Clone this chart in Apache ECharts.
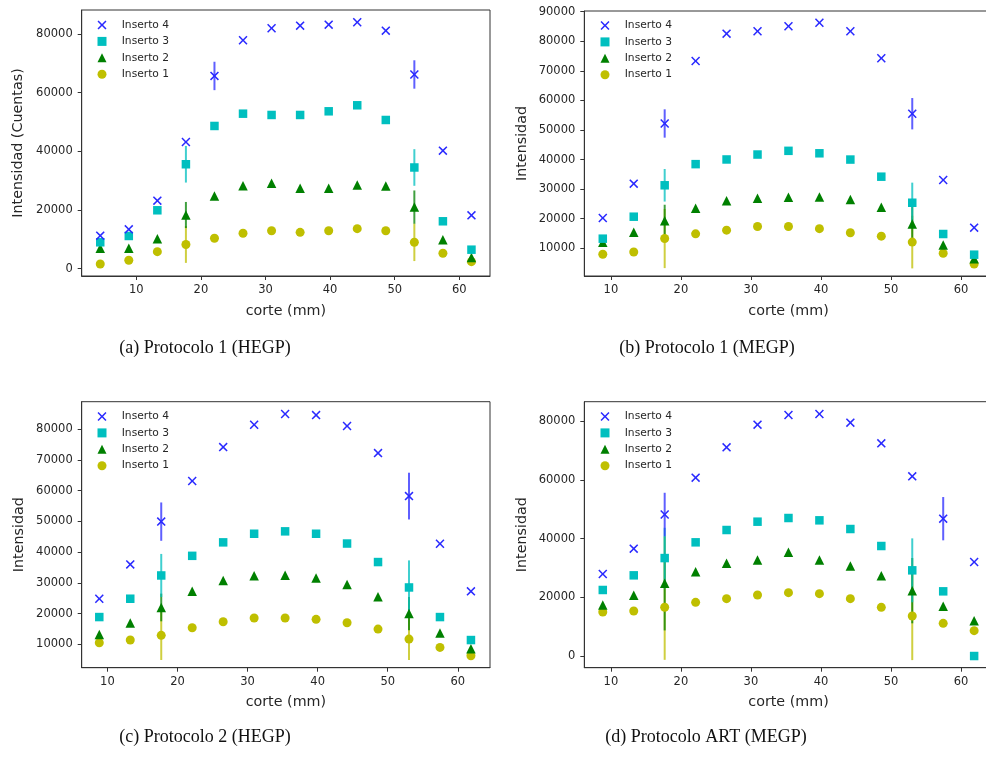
<!DOCTYPE html>
<html>
<head>
<meta charset="utf-8">
<title>Intensidad por corte</title>
<script src="https://cdn.jsdelivr.net/npm/echarts@6/dist/echarts.min.js"></script>
<style>
    html, body { margin: 0; padding: 0; background: #fff; }
    #main { width: 986px; height: 758px; }
</style>
</head>
<body>
<div id="main"></div>
<script>
// posiciones de corte (mm)
var cortesA = [4.42, 8.84, 13.26, 17.68, 22.10, 26.52, 30.94, 35.36, 39.78, 44.20, 48.62, 53.04, 57.46, 61.88];
var cortes = [8.84, 13.26, 17.68, 22.10, 26.52, 30.94, 35.36, 39.78, 44.20, 48.62, 53.04, 57.46, 61.88];

// (a) Protocolo 1 (HEGP)
var a4 = [11250, 13430, 23180, 43190, 65700, 77860, 81950, 82840, 83180, 84000, 81130, 66200, 40230, 18200];
var a3 = [9000, 11150, 19910, 35600, 48650, 52840, 52400, 52400, 53650, 55700, 50690, 34500, 16160, 6480];
var a2 = [6950, 6950, 10230, 18300, 24780, 28300, 29110, 27400, 27400, 28530, 28190, 21000, 9890, 3800];
var a1 = [1600, 2860, 5800, 8250, 10360, 12070, 12950, 12400, 12950, 13640, 12950, 9000, 5250, 2390];
var errA4 = [null, null, null, null, 4840, null, null, null, null, null, null, 4840, null, null];
var errA3 = [null, null, null, 6240, null, null, null, null, null, null, null, 6240, null, null];
var errA2 = [null, null, null, 4450, null, null, null, null, null, null, null, 5670, null, null];
var errA1 = [null, null, null, 6270, null, null, null, null, null, null, null, 6400, null, null];

// (b) Protocolo 1 (MEGP)
var b4 = [20240, 31840, 52200, 73330, 82560, 83370, 85060, 86270, 83370, 74240, 55500, 33090, 16960];
var b3 = [13250, 20680, 31300, 38450, 40030, 41700, 42950, 42120, 40000, 34210, 25400, 14830, 7840];
var b2 = [12030, 15410, 19330, 23520, 26100, 26900, 27240, 27300, 26500, 23900, 18200, 11120, 6500];
var b1 = [7970, 8750, 13300, 14880, 16140, 17370, 17370, 16630, 15270, 14100, 12100, 8310, 4690];
var errB4 = [null, null, 4790, null, null, null, null, null, null, null, 5300, null, null];
var errB3 = [null, null, 5500, null, null, null, null, null, null, null, 6800, null, null];
var errB2 = [null, null, 5400, null, null, null, null, null, null, null, 6000, null, null];
var errB1 = [null, null, 10000, null, null, null, null, null, null, null, 8900, null, null];

// (c) Protocolo 2 (HEGP)
var c4 = [24840, 36000, 49900, 63090, 74140, 81400, 84870, 84540, 80970, 72190, 58200, 42720, 27230];
var c3 = [18880, 24840, 32400, 38780, 43160, 45960, 46740, 45960, 42780, 36760, 28500, 18880, 11410];
var c2 = [13250, 16930, 22000, 27230, 30800, 32320, 32430, 31560, 29500, 25490, 20000, 13680, 8590];
var c1 = [10540, 11410, 12930, 15420, 17370, 18560, 18560, 18130, 17040, 14980, 11730, 9020, 6320];
var errC4 = [null, null, 6230, null, null, null, null, null, null, null, 7600, null, null];
var errC3 = [null, null, 7000, null, null, null, null, null, null, null, 8800, null, null];
var errC2 = [null, null, 4500, null, null, null, null, null, null, null, 5400, null, null];
var errC1 = [null, null, 8000, null, null, null, null, null, null, null, 6800, null, null];

// (d) Protocolo ART (MEGP)
var d4 = [27990, 36600, 48200, 60730, 71040, 78740, 82030, 82370, 79420, 72400, 61180, 46790, 32060];
var d3 = [22550, 27530, 33400, 38750, 42940, 45770, 47020, 46230, 43280, 37500, 29230, 22090, 100];
var d2 = [17450, 20730, 24810, 28780, 31610, 32740, 35350, 32740, 30700, 27420, 22320, 17000, 12120];
var d1 = [15070, 15410, 16700, 18350, 19600, 20850, 21640, 21300, 19600, 16660, 13710, 11220, 8720];
var errD4 = [null, null, 7400, null, null, null, null, null, null, null, null, 7360, null];
var errD3 = [null, null, 10300, null, null, null, null, null, null, null, 10870, null, null];
var errD2 = [null, null, 16000, null, null, null, null, null, null, null, 11100, null, null];
var errD1 = [null, null, 17900, null, null, null, null, null, null, null, 15000, null, null];

// etiquetas de los ejes
var xTicks = [10, 20, 30, 40, 50, 60];
var yTicksA = [0, 20000, 40000, 60000, 80000];
var yTicksB = [10000, 20000, 30000, 40000, 50000, 60000, 70000, 80000, 90000];
var yTicksC = [10000, 20000, 30000, 40000, 50000, 60000, 70000, 80000];
var yTicksD = [0, 20000, 40000, 60000, 80000];

var names = ['Inserto 1', 'Inserto 2', 'Inserto 3', 'Inserto 4'];
var captions = ['(a) Protocolo 1 (HEGP)', '(b) Protocolo 1 (MEGP)', '(c) Protocolo 2 (HEGP)', '(d) Protocolo ART (MEGP)'];
var yNames = ['Intensidad (Cuentas)', 'Intensidad', 'Intensidad', 'Intensidad'];

var panels = [
    { x: cortesA, vals: [a1, a2, a3, a4], errs: [errA1, errA2, errA3, errA4], yTicks: yTicksA },
    { x: cortes, vals: [b1, b2, b3, b4], errs: [errB1, errB2, errB3, errB4], yTicks: yTicksB },
    { x: cortes, vals: [c1, c2, c3, c4], errs: [errC1, errC2, errC3, errC4], yTicks: yTicksC },
    { x: cortes, vals: [d1, d2, d3, d4], errs: [errD1, errD2, errD3, errD4], yTicks: yTicksD }
];

// cajas de cada subfigura (px) y limites de los ejes
var boxes = [
    { left: 81.7, top: 10, right: 496, bottom: 482, xMin: 1.55, xMax: 64.75, yMin: -2490, yMax: 88180, legLeft: 97.5, legTop: 19.5, capX: 205, capY: 348, nameGap: 56 },
    { left: 584.3, top: 11, right: -6.7, bottom: 482, xMin: 6.2, xMax: 64.53, yMin: 630, yMax: 90230, legLeft: 600.5, legTop: 20, capX: 707, capY: 348, nameGap: 55 },
    { left: 81.7, top: 401.7, right: 496, bottom: 90.3, xMin: 6.33, xMax: 64.6, yMin: 2420, yMax: 88880, legLeft: 97.5, legTop: 411, capX: 205, capY: 737, nameGap: 55 },
    { left: 584.3, top: 401.7, right: -6.7, bottom: 90.3, xMin: 6.2, xMax: 64.53, yMin: -3870, yMax: 86560, legLeft: 600.5, legTop: 411, capX: 706, capY: 737, nameGap: 55 }
];

var colors = ['#bfbf00', '#008000', '#00bfbf', '#2a2aff'];
var xPath = 'path://M1.2,0L5,3.8L8.8,0L10,1.2L6.2,5L10,8.8L8.8,10L5,6.2L1.2,10L0,8.8L3.8,5L0,1.2Z';
var symbols = ['circle', 'triangle', 'rect', xPath];
var sizes = [9, 9.5, 8.5, 9];
var FONT = 'DejaVu Sans';

var myChart = echarts.init(document.getElementById('main'), null, { renderer: 'canvas' });

var grids = [], xAxes = [], yAxes = [], legends = [], series = [], graphics = [];

function errRenderer(color) {
    return function (params, api) {
        var x = api.value(0), y = api.value(1), e = api.value(2);
        var p1 = api.coord([x, y + e]);
        var p2 = api.coord([x, y - e]);
        return {
            type: 'line',
            shape: { x1: p1[0], y1: p1[1], x2: p2[0], y2: p2[1] },
            style: { stroke: color, lineWidth: 2, opacity: 0.75 }
        };
    };
}

for (let i = 0; i < panels.length; i++) {
    var p = panels[i], b = boxes[i];
    grids.push({
        left: b.left, top: b.top, right: b.right, bottom: b.bottom,
        show: true, borderColor: '#333', borderWidth: 1, backgroundColor: 'transparent',
        outerBoundsMode: 'none', containLabel: false
    });
    xAxes.push({
        gridIndex: i, type: 'value', min: b.xMin, max: b.xMax,
        name: 'corte (mm)', nameLocation: 'middle', nameGap: 28, nameMoveOverlap: false,
        nameTextStyle: { fontFamily: FONT, fontSize: 14.3, color: '#262626' },
        axisLine: { show: true, onZero: false, lineStyle: { color: '#333', width: 1 } },
        axisTick: { show: true, length: 4, customValues: xTicks, lineStyle: { color: '#333' } },
        axisLabel: { customValues: xTicks, fontFamily: FONT, fontSize: 11.5, color: '#262626', margin: 8 },
        splitLine: { show: false }
    });
    yAxes.push({
        gridIndex: i, type: 'value', min: b.yMin, max: b.yMax,
        name: yNames[i], nameLocation: 'middle', nameGap: b.nameGap, nameRotate: 90, nameMoveOverlap: false,
        nameTextStyle: { fontFamily: FONT, fontSize: 14.3, color: '#262626' },
        axisLine: { show: true, onZero: false, lineStyle: { color: '#333', width: 1 } },
        axisTick: { show: true, length: 4, customValues: p.yTicks, lineStyle: { color: '#333' } },
        axisLabel: {
            customValues: p.yTicks, fontFamily: FONT, fontSize: 11.5, color: '#262626', margin: 9,
            formatter: function (v) { return String(v); }
        },
        splitLine: { show: false }
    });
    legends.push({
        orient: 'vertical', left: b.legLeft, top: b.legTop, padding: 0,
        itemWidth: 9, itemHeight: 9, itemGap: 5.4, selectedMode: false,
        data: ['Inserto 4', 'Inserto 3', 'Inserto 2', 'Inserto 1'],
        textStyle: { fontFamily: FONT, fontSize: 10.7, color: '#262626', padding: [0, 0, 0, 10.2] }
    });
    // barras de error (debajo de los marcadores)
    for (let s = 0; s < 4; s++) {
        var rows = [];
        for (let j = 0; j < p.x.length; j++) {
            if (p.errs[s][j] != null) rows.push([p.x[j], p.vals[s][j], p.errs[s][j]]);
        }
        series.push({
            type: 'custom', name: 'err ' + names[s], xAxisIndex: i, yAxisIndex: i,
            renderItem: errRenderer(colors[s]), data: rows, z: 1, silent: true, animation: false
        });
    }
    for (let s = 0; s < 4; s++) {
        var pts = [];
        for (let j = 0; j < p.x.length; j++) pts.push([p.x[j], p.vals[s][j]]);
        series.push({
            type: 'scatter', name: names[s], xAxisIndex: i, yAxisIndex: i,
            symbol: symbols[s], symbolSize: sizes[s],
            itemStyle: { color: colors[s], opacity: 1 },
            data: pts, z: 2, silent: true, animation: false
        });
    }
    graphics.push({
        type: 'text', x: b.capX, y: b.capY,
        style: { text: captions[i], font: '18px "Liberation Serif"', fill: '#111', textAlign: 'center', textVerticalAlign: 'middle' }
    });
}

var option = {
    backgroundColor: '#fff',
    animation: false,
    grid: grids,
    xAxis: xAxes,
    yAxis: yAxes,
    legend: legends,
    series: series,
    graphic: graphics
};

option && myChart.setOption(option);
</script>
</body>
</html>
